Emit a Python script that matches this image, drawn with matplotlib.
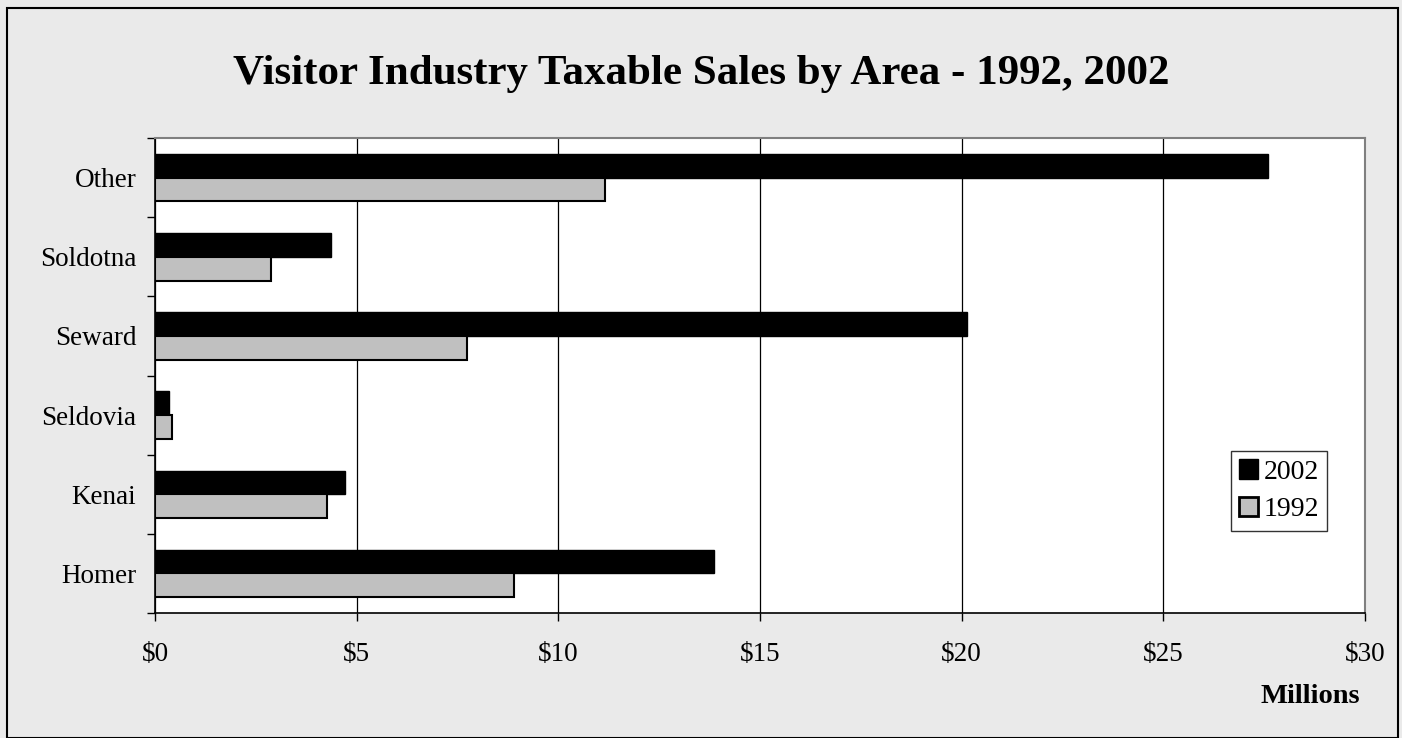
import numpy as np
import matplotlib
matplotlib.use("Agg")
import matplotlib.pyplot as plt
import matplotlib.patches as mpatches
from matplotlib.ticker import FuncFormatter, FixedLocator

plt.rcParams["font.family"] = ["Liberation Serif", "DejaVu Serif"]

# ── Data (millions of dollars) ────────────────────────────────────────────────
areas = ["Homer", "Kenai", "Seldovia", "Seward", "Soldotna", "Other"]
sales_2002 = [13.85, 4.71, 0.35, 20.13, 4.36, 27.6]
sales_1992 = [8.90, 4.26, 0.42, 7.74, 2.88, 11.15]

BG = "#EAEAEA"
GREY = "#C0C0C0"

# ── Figure ────────────────────────────────────────────────────────────────────
fig = plt.figure(figsize=(14.02, 7.38), dpi=100)
fig.patch.set_facecolor(BG)
ax = fig.add_axes([155 / 1402, 1 - 613 / 738, 1210 / 1402, 475 / 738])
ax.set_facecolor("white")

y = np.arange(len(areas))
h = 0.3
ax.barh(y + h / 2, sales_2002, height=h, color="black", edgecolor="black",
        linewidth=1, label="2002", zorder=3)
ax.barh(y - h / 2, sales_1992, height=h, color=GREY, edgecolor="black",
        linewidth=1.5, label="1992", zorder=3)

ax.set_xlim(0, 30)
ax.set_ylim(-0.5, len(areas) - 0.5)

# ── Axes styling ──────────────────────────────────────────────────────────────
ax.set_xticks(np.arange(0, 31, 5))
ax.xaxis.set_major_formatter(FuncFormatter(lambda v, _: f"${v:.0f}"))
ax.set_yticks(y)
ax.set_yticklabels(areas)
ax.yaxis.set_minor_locator(FixedLocator(np.arange(-0.5, len(areas), 1)))
ax.tick_params(axis="y", which="major", length=0, pad=13.5, labelsize=19.5)
ax.tick_params(axis="y", which="minor", length=6, width=1, direction="out")
ax.tick_params(axis="x", which="major", length=6, width=1, direction="out",
               pad=15, labelsize=19.5)

ax.grid(True, axis="x", color="black", linewidth=0.9, zorder=1)
ax.set_axisbelow(True)
for side in ["top", "right"]:
    ax.spines[side].set_color("#808080")
    ax.spines[side].set_linewidth(1.5)
for side in ["left", "bottom"]:
    ax.spines[side].set_color("black")
    ax.spines[side].set_linewidth(1.2)

# ── Legend ────────────────────────────────────────────────────────────────────
handles = [
    mpatches.Patch(facecolor="black", edgecolor="black", label="2002"),
    mpatches.Patch(facecolor=GREY, edgecolor="black", linewidth=2, label="1992"),
]
leg = ax.legend(handles=handles, loc="lower right",
                bbox_to_anchor=(0.969, 0.173), fontsize=20, frameon=True,
                fancybox=False, edgecolor="#333333", framealpha=1,
                handlelength=0.68, handleheight=0.68, handletextpad=0.2,
                borderpad=0.3, labelspacing=0.45, borderaxespad=0)
leg.get_frame().set_linewidth(1)

# ── Titles ────────────────────────────────────────────────────────────────────
fig.text(0.5, 1 - 84 / 738, "Visitor Industry Taxable Sales by Area - 1992, 2002",
         ha="center", va="baseline", fontsize=31, fontweight="bold")
fig.text(1360 / 1402, 1 - 703 / 738, "Millions", ha="right", va="baseline",
         fontsize=20.5, fontweight="bold")

# ── Figure border ─────────────────────────────────────────────────────────────
fig.patches.append(mpatches.Rectangle((7 / 1402, 0), 1391 / 1402, 1 - 8 / 738,
                                      transform=fig.transFigure, fill=False,
                                      edgecolor="black", linewidth=1.5))

fig.savefig("out.png", dpi=100, facecolor=fig.get_facecolor())
